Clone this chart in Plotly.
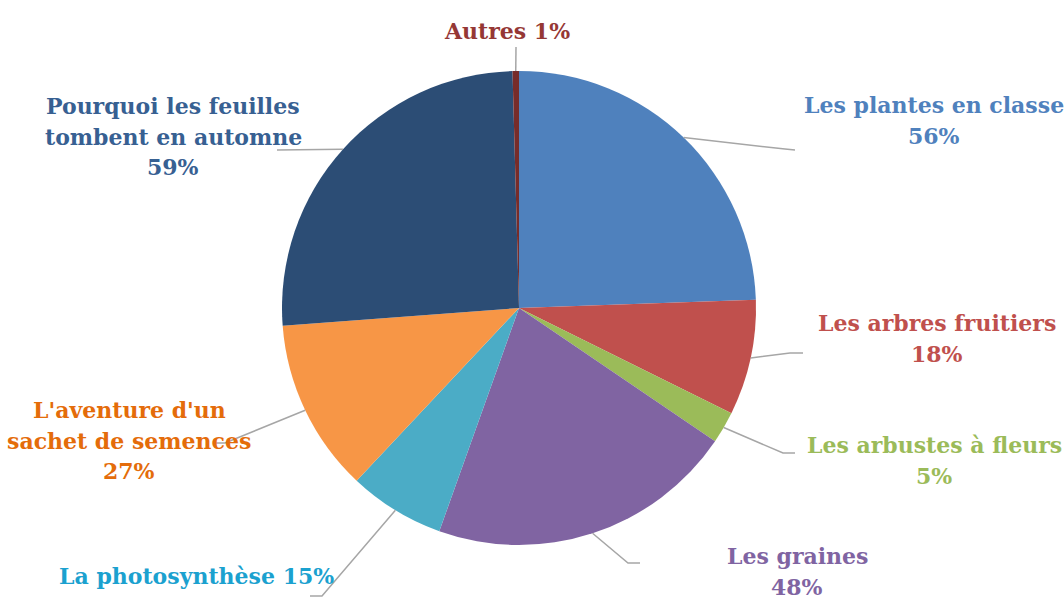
import math
import plotly.graph_objects as go

labels = ["Les plantes en classe", "Les arbres fruitiers", "Les arbustes à fleurs",
          "Les graines", "La photosynthèse", "L'aventure d'un sachet de semences",
          "Pourquoi les feuilles tombent en automne", "Autres"]
values = [56, 18, 5, 48, 15, 27, 59, 1]
label_lines = [["Les plantes en classe", "56%"], ["Les arbres fruitiers", "18%"],
               ["Les arbustes à fleurs", "5%"], ["Les graines", "48%"],
               ["La photosynthèse 15%"], ["L'aventure d'un", "sachet de semences", "27%"],
               ["Pourquoi les feuilles", "tombent en automne", "59%"], ["Autres 1%"]]
slice_colors = ["#4F81BD", "#C0504D", "#9BBB59", "#8064A2", "#4BACC6", "#F79646", "#2C4D75", "#772C2A"]
text_colors = ["#4F81BD", "#C0504D", "#9BBB59", "#8064A2", "#1BA1CF", "#E46C0A", "#376092", "#953735"]

W, H = 1064, 601
CX, CY, R = 519, 308, 237
LINE_H = 30.5

# label layout (pixel positions): text centre x, first line centre y, elbow, end of leader line
text_x = [934, 937, 934, 797, 196, 129, 173, 507]
text_y0 = [105, 323, 445, 556, 576, 410, 106, 31]
elbows = [(785, 149), (790, 353), (783, 453), (628, 563), (322, 596), (225, 443), (277, 150), (516, 47)]
ends = [(795, 150), (803, 353), (795, 453), (640, 563), (310, 596), (215, 443), (277, 150), (516, 47)]


def px(x):
    return x / W


def py(y):
    return 1 - y / H


fig = go.Figure(go.Pie(
    labels=labels, values=values, sort=False, direction="clockwise", rotation=0,
    marker=dict(colors=slice_colors, line=dict(width=0)),
    textinfo="none", showlegend=False,
    domain=dict(x=[px(CX - R), px(CX + R)], y=[py(CY + R), py(CY - R)]),
))

total = sum(values)
cum = 0
shapes = []
annotations = []
for i, v in enumerate(values):
    mid = (cum + v / 2) / total * 2 * math.pi
    cum += v
    sx = CX + R * math.sin(mid)
    sy = CY - R * math.cos(mid)
    ex, ey = elbows[i]
    fx, fy = ends[i]
    path = f"M {px(sx)} {py(sy)} L {px(ex)} {py(ey)} L {px(fx)} {py(fy)}"
    shapes.append(dict(type="path", path=path, xref="paper", yref="paper",
                       line=dict(color="#A6A6A6", width=1.5)))
    for j, line in enumerate(label_lines[i]):
        annotations.append(dict(text="<b>" + line + "</b>", x=px(text_x[i]),
                                y=py(text_y0[i] + j * LINE_H),
                                xref="paper", yref="paper", xanchor="center", yanchor="middle",
                                showarrow=False, align="center",
                                font=dict(family="DejaVu Serif", size=22, color=text_colors[i])))

fig.update_layout(width=W, height=H, margin=dict(l=0, r=0, t=0, b=0),
                  paper_bgcolor="white", plot_bgcolor="white",
                  shapes=shapes, annotations=annotations)
fig.write_html("out.html", config={"displayModeBar": False},
               post_script="document.body.style.margin='0';document.body.style.overflow='hidden';")
